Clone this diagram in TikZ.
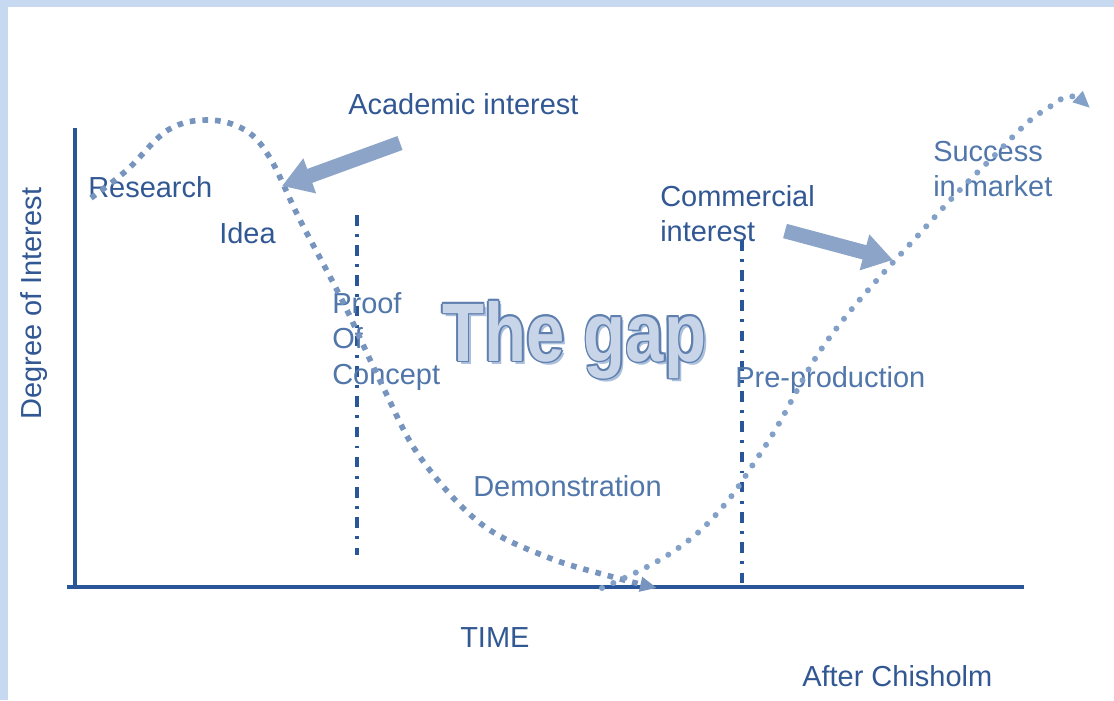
\documentclass[tikz,border=0pt]{standalone}
\usepackage{fontspec}
\setmainfont{Liberation Sans}
\usepackage{graphicx}
\usetikzlibrary{arrows.meta}
\definecolor{bandblue}{RGB}{198,217,240}
\definecolor{axisblue}{RGB}{40,86,152}
\definecolor{txtdark}{RGB}{50,88,148}
\definecolor{txtlight}{RGB}{80,118,170}
\definecolor{dotblue}{RGB}{118,148,190}
\definecolor{rdotblue}{RGB}{130,160,200}
\definecolor{arrowblue}{RGB}{140,164,199}
\definecolor{gapfill}{RGB}{200,213,232}
\definecolor{gapstroke}{RGB}{95,128,175}
\definecolor{gapshadow}{RGB}{172,192,220}
\newcommand{\fs}{\fontsize{20.6pt}{24.9pt}\selectfont}
\newcommand{\gapfont}{\fontsize{59pt}{60pt}\selectfont\bfseries}
\newcommand{\gaptxt}{\scalebox{0.83}[1]{\gapfont The gap}}
\begin{document}
\begin{tikzpicture}[x=0.025cm,y=-0.025cm,
  lbl/.style={anchor=base west,inner sep=0pt,font=\fs,text=txtdark},
  lbll/.style={lbl,text=txtlight},
  axisline/.style={draw=axisblue,line width=2.9pt},
  phase/.style={draw=axisblue,line width=2.4pt,dash pattern=on 7.5pt off 6pt on 2pt off 6pt},
  sqdots/.style={draw=dotblue,line width=4pt,dash pattern=on 4pt off 5pt,line cap=butt,-{Triangle[length=12pt,width=10pt]}},
  rddots/.style={draw=rdotblue,line width=4.3pt,dash pattern=on 0pt off 8.8pt,line cap=round,-{Triangle[length=12pt,width=10pt]}},
  bigarrow/.style={draw=arrowblue,line width=10.5pt,-{Triangle[length=21pt,width=25pt]}},
  gapbase/.style={anchor=base west,inner sep=0pt}
]
\fill[bandblue] (0,0) rectangle (1114,700);
\fill[white] (8,7) rectangle (1114,700);
\useasboundingbox (0,0) rectangle (1114,700);

% axes
\coordinate (ytop) at (75,128);
\coordinate (ybot) at (75,589);
\coordinate (xl) at (67,587);
\coordinate (xr) at (1024,587);
\draw[axisline] (ytop) -- (ybot);
\draw[axisline] (xl) -- (xr);

% phase lines
\coordinate (p1t) at (357,215);
\coordinate (p1b) at (357,555);
\coordinate (p2t) at (742,240);
\coordinate (p2b) at (742,583);
\draw[phase] (p1t) -- (p1b);
\draw[phase] (p2t) -- (p2b);

% labels
\node[lbl] (acad) at (348,114) {Academic interest};
\node[lbl] (res) at (88,197) {Research};
\node[lbl] (idea) at (219,243) {Idea};
\node[lbll] (proof1) at (332,313) {Proof};
\node[lbll] (proof2) at (332,348) {Of};
\node[lbll] (proof3) at (332,384) {Concept};
\node[lbl] (comm1) at (660,206) {Commercial};
\node[lbl] (comm2) at (660,241) {interest};
\node[lbll] (succ1) at (933,161) {Success};
\node[lbll] (succ2) at (933,196) {in market};
\node[lbll] (prep) at (735,387) {Pre-production};
\node[lbll] (demo) at (473,496) {Demonstration};
\node[lbl] (time) at (460,647) {TIME};
\node[lbl] (after) at (802,686) {After Chisholm};
\node[lbl,rotate=90] (deg) at (42,420) {Degree of Interest};

% The gap (outlined word art)
\node[gapbase,text=gapshadow] (gapsh) at (445,364) {\gaptxt};
\foreach \a in {0,45,...,315}{
  \node[gapbase,text=gapstroke,xshift={1.2pt*cos(\a)},yshift={1.2pt*sin(\a)}] (gs\a) at (442,361) {\gaptxt};
}
\node[gapbase,text=gapfill] (gap) at (442,361) {\gaptxt};

% curves
\draw[sqdots] plot[smooth,tension=0.6] coordinates {(91,198) (127,170) (168,130) (208,120) (245,130) (270,158) (300,220) (342,300) (383,387) (420,457) (480,523) (547,557) (613,577) (657,588)};
\draw[rddots] plot[smooth,tension=0.6] coordinates {(602,588) (637,572) (671,553) (702,529) (730,498) (752,466) (777,427) (813,362) (843,320) (877,280) (912,242) (955,195) (990,160) (1027,123) (1048,108) (1070,96) (1090,108)};

% big arrows
\coordinate (a1t) at (400,143);
\coordinate (a1h) at (282,186);
\coordinate (a2t) at (785,231);
\coordinate (a2h) at (893,260);
\draw[bigarrow] (a1t) -- (a1h);
\draw[bigarrow] (a2t) -- (a2h);
\end{tikzpicture}
\end{document}
